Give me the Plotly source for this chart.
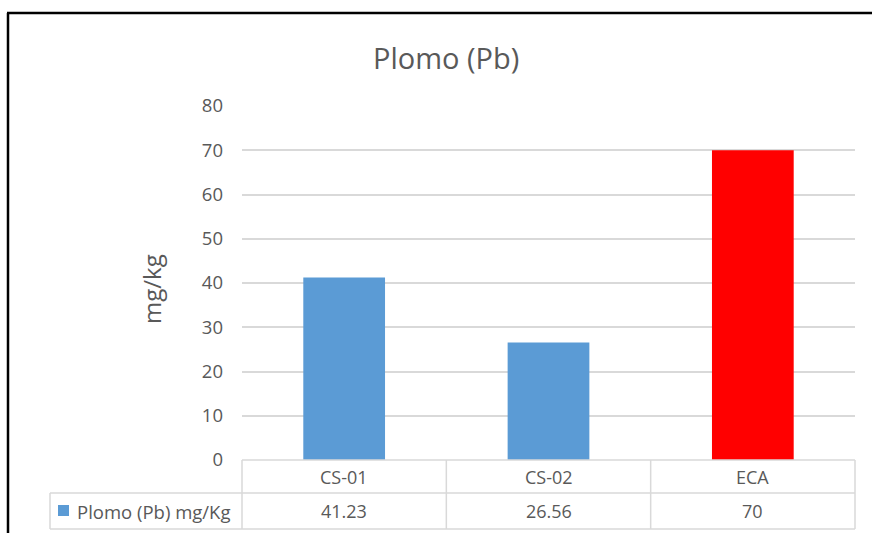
import plotly.graph_objects as go

# Data
categories = ["CS-01", "CS-02", "ECA"]
values = [41.23, 26.56, 70]
value_labels = ["41.23", "26.56", "70"]
series_name = "Plomo (Pb) mg/Kg"
bar_colors = ["#5b9bd5", "#5b9bd5", "#ff0000"]
y_ticks = [0, 10, 20, 30, 40, 50, 60, 70, 80]

W, H = 872, 533
L, R, T, B = 242, 17, 106, 73
PW, PH = W - L - R, H - T - B

def px(x):
    return (x - L) / PW

def py(y):
    return (H - B - y) / PH

TXT = "#595959"
GRID = "#d9d9d9"
FONT = "Open Sans"

fig = go.Figure(
    go.Bar(
        x=list(range(len(categories))),
        y=values,
        marker=dict(color=bar_colors, line=dict(width=0)),
        width=0.4,
        showlegend=False,
        hoverinfo="skip",
    )
)

shapes = []
# Data table grid
row1_top, row1_bot, row2_bot = 460, 493, 529
shapes.append(dict(type="line", xref="paper", yref="paper", x0=px(242), x1=px(855),
                   y0=py(row1_top), y1=py(row1_top), line=dict(color=GRID, width=1.5)))
shapes.append(dict(type="line", xref="paper", yref="paper", x0=px(50), x1=px(855),
                   y0=py(row1_bot), y1=py(row1_bot), line=dict(color=GRID, width=1.5)))
shapes.append(dict(type="line", xref="paper", yref="paper", x0=px(50), x1=px(855),
                   y0=py(row2_bot), y1=py(row2_bot), line=dict(color=GRID, width=1.5)))
shapes.append(dict(type="line", xref="paper", yref="paper", x0=px(50), x1=px(50),
                   y0=py(row1_bot), y1=py(row2_bot), line=dict(color=GRID, width=1.5)))
for i in range(len(categories) + 1):
    xb = i / len(categories)
    shapes.append(dict(type="line", xref="paper", yref="paper", x0=xb, x1=xb,
                       y0=py(row1_top), y1=py(row2_bot), line=dict(color=GRID, width=1.5)))
# Series key in the table
shapes.append(dict(type="rect", xref="paper", yref="paper", x0=px(58), x1=px(69),
                   y0=py(505), y1=py(516), fillcolor=bar_colors[0], line=dict(width=0)))
# Chart frame
shapes.append(dict(type="line", xref="paper", yref="paper", x0=px(7), x1=px(872),
                   y0=py(13), y1=py(13), line=dict(color="black", width=2.5)))
shapes.append(dict(type="line", xref="paper", yref="paper", x0=px(8), x1=px(8),
                   y0=py(13), y1=py(533), line=dict(color="black", width=2.5)))

annotations = []
for i, (c, v) in enumerate(zip(categories, value_labels)):
    annotations.append(dict(x=i, xref="x", y=py(477), yref="paper", text=c, showarrow=False,
                            font=dict(family=FONT, size=18, color=TXT), xanchor="center", yanchor="middle"))
    annotations.append(dict(x=i, xref="x", y=py(511), yref="paper", text=v, showarrow=False,
                            font=dict(family=FONT, size=18, color=TXT), xanchor="center", yanchor="middle"))
annotations.append(dict(x=px(75), xref="paper", y=py(511), yref="paper", text=series_name, showarrow=False,
                        font=dict(family=FONT, size=18.5, color=TXT), xanchor="left", yanchor="middle"))
annotations.append(dict(x=px(151), xref="paper", y=py(289), yref="paper", text="mg/kg", showarrow=False,
                        textangle=-90, font=dict(family=FONT, size=24, color=TXT),
                        xanchor="center", yanchor="middle"))
annotations.append(dict(x=px(446), xref="paper", y=py(57), yref="paper", text="Plomo (Pb)", showarrow=False,
                        font=dict(family=FONT, size=29, color=TXT), xanchor="center", yanchor="middle"))

fig.update_layout(
    width=W, height=H,
    margin=dict(l=L, r=R, t=T, b=B, autoexpand=False),
    paper_bgcolor="white", plot_bgcolor="white",
    shapes=shapes, annotations=annotations,
    xaxis=dict(range=[-0.5, len(categories) - 0.5], showticklabels=False, showgrid=False,
               zeroline=False, showline=False, ticks="", fixedrange=True),
    yaxis=dict(range=[0, 80], tickvals=y_ticks, showgrid=True, gridcolor=GRID, gridwidth=1.5,
               zeroline=False, showline=False, ticks="", ticklabelstandoff=18,
               tickfont=dict(family=FONT, size=18.5, color=TXT), fixedrange=True),
    bargap=0.6,
)

fig.write_html("out.html")
